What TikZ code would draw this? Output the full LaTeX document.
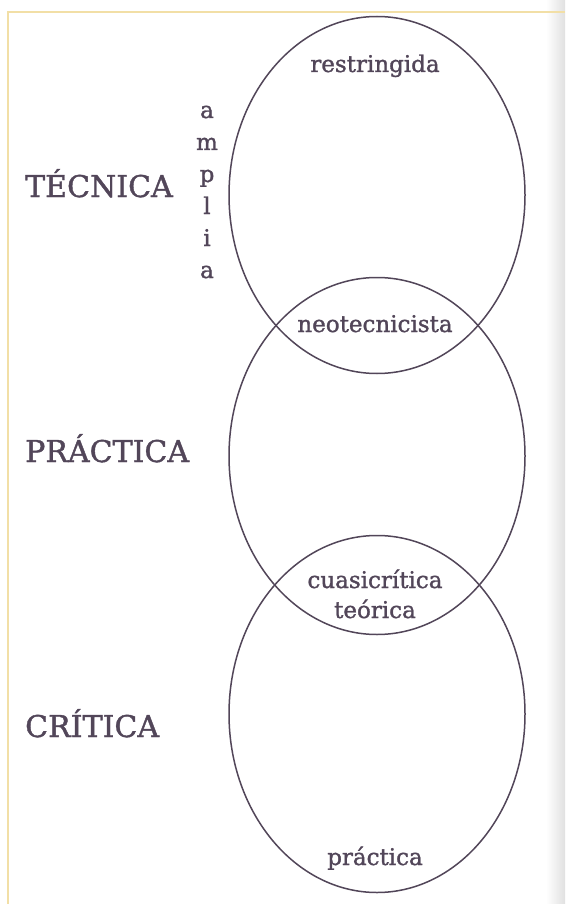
\documentclass[tikz,border=0pt]{standalone}
\usepackage{fontspec}
\setmainfont{DejaVu Serif}[FakeBold=1.3]
\usetikzlibrary{shapes.geometric}
\definecolor{ink}{HTML}{524659}
\definecolor{rim}{HTML}{F2DFA6}
\tikzset{
  zone/.style={draw=ink, line width=1.5pt, ellipse, minimum width=296pt, minimum height=357pt, inner sep=0pt},
  title/.style={text=ink, inner sep=0pt, anchor=base west, font=\fontsize{30}{34}\selectfont},
  word/.style={text=ink, inner sep=0pt, anchor=base, font=\fontsize{23}{30}\selectfont},
}

\begin{document}
\begin{tikzpicture}[x=1pt, y=-1pt]
        \useasboundingbox[fill=white] (0,0) rectangle (565,904);
        \shade[left color=white, right color=black!12] (546,0) rectangle (565,904);
        \draw[rim, line width=1.4pt] (8,904) -- (8,12) -- (565,12);

        \node (T) at (377,195) [zone] {};
        \node (P) at (377,456) [zone] {};
        \node (C) at (377,714) [zone] {};

        \node (TT) at (25,197) [title] {TÉCNICA};
        \node (PT) at (25,462) [title] {PRÁCTICA};
        \node (CT) at (25,737) [title] {CRÍTICA};

        \node (R) at (375,72) [word] {restringida};
        \node (N) at (375,332) [word] {neotecnicista};
        \node (Q) at (375,618) [word, align=center] {cuasicrítica\\teórica};
        \node (K) at (375,865) [word] {práctica};

        \foreach \l [count=\i] in {a,m,p,l,i,a}
          \node (A\i) at (207,86+32*\i) [word] {\l};

    \end{tikzpicture}
\end{document}
